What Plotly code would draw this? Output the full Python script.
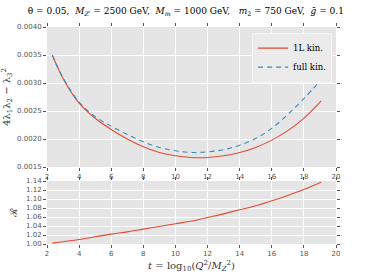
import plotly.graph_objects as go
from plotly.subplots import make_subplots

t = [2.33, 3, 4, 5, 6, 7, 8, 9, 10, 11, 12, 13, 14, 15, 16, 17, 18, 19.08]
lam_1L = [0.00350, 0.00308, 0.00264, 0.00237, 0.00217, 0.00200, 0.00186, 0.00176, 0.00170,
          0.00167, 0.00167, 0.00170, 0.00176, 0.00185, 0.00198, 0.00215, 0.00237, 0.00268]
lam_full = [0.00350, 0.00309, 0.00266, 0.00240, 0.00223, 0.00208, 0.00195, 0.00185, 0.00179,
            0.00176, 0.00177, 0.00181, 0.00189, 0.00201, 0.00219, 0.00244, 0.00272, 0.00306]
ratio = [1.002, 1.005, 1.010, 1.016, 1.022, 1.027, 1.033, 1.039, 1.045, 1.051, 1.059,
         1.067, 1.076, 1.085, 1.096, 1.108, 1.121, 1.137]

RED = "#E24A33"
BLUE = "#348ABD"
SERIF = "DejaVu Serif"

fig = make_subplots(rows=2, cols=1, shared_xaxes=False, vertical_spacing=0.06)
fig.add_trace(go.Scatter(x=t, y=lam_1L, mode="lines", name="1L kin.",
                         line=dict(color=RED, width=1.1, shape="spline")), row=1, col=1)
fig.add_trace(go.Scatter(x=t, y=lam_full, mode="lines", name="full kin.",
                         line=dict(color=BLUE, width=1.1, dash="5px,4px", shape="spline")), row=1, col=1)
fig.add_trace(go.Scatter(x=t, y=ratio, mode="lines", showlegend=False,
                         line=dict(color=RED, width=1.1, shape="spline")), row=2, col=1)

axis_common = dict(showgrid=True, gridcolor="white", gridwidth=1, zeroline=False, showline=False,
                   ticks="outside", ticklen=3, tickcolor="#555555", mirror="ticks", automargin=False,
                   tickfont=dict(family="DejaVu Sans", size=7, color="#555555"))

fig.update_xaxes(range=[2, 20], dtick=2, tick0=2, **axis_common)
fig.update_yaxes(**axis_common)
fig.update_yaxes(range=[0.0015, 0.0040], dtick=0.0005, tick0=0.0015, tickformat=".4f",
                 domain=[0.3548, 1.0], row=1, col=1,
                 title=dict(text="4λ<sub>1</sub>λ<sub>2</sub> − λ<sub>3</sub><sup>2</sup>",
                            font=dict(family=SERIF, size=10, color="#333333"), standoff=6))
fig.update_yaxes(range=[1.0, 1.14], dtick=0.02, tick0=1.0, tickformat=".2f",
                 domain=[0.0, 0.2903], row=2, col=1,
                 title=dict(text="ℛ", font=dict(family=SERIF, size=10, color="#333333"), standoff=6))
fig.update_xaxes(domain=[0, 1])
fig.update_xaxes(row=2, col=1,
                 title=dict(text="<i>t</i> = log<sub>10</sub>(<i>Q</i><sup>2</sup>/<i>M</i><sub><i>Z</i></sub><sup>2</sup>)",
                            font=dict(family=SERIF, size=10, color="#333333"), standoff=4))

fig.update_layout(
    width=374, height=280,
    margin=dict(l=47, r=38, t=27, b=36),
    paper_bgcolor="white", plot_bgcolor="#E5E5E5",
    title=dict(text="θ = 0.05,  <i>M</i><sub><i>Z'</i></sub> = 2500 GeV,  <i>M</i><sub><i>m</i></sub> = 1000 GeV,   "
                    "<i>m</i><sub>2</sub> = 750 GeV,  <i>ḡ</i> = 0.1",
               font=dict(family=SERIF, size=9, color="black"), x=0.497, xanchor="center", y=0.962, yanchor="middle",
               automargin=False),
    legend=dict(x=0.9865, xanchor="right", y=0.974, yanchor="top",
                bgcolor="#EBEBEB", bordercolor="#F5F5F5", borderwidth=1,
                font=dict(family=SERIF, size=8.5, color="black"), itemwidth=30, tracegroupgap=0),
    showlegend=True,
)

fig.write_html("out.html", post_script="document.body.style.margin='0';",
               config={"displayModeBar": False})
